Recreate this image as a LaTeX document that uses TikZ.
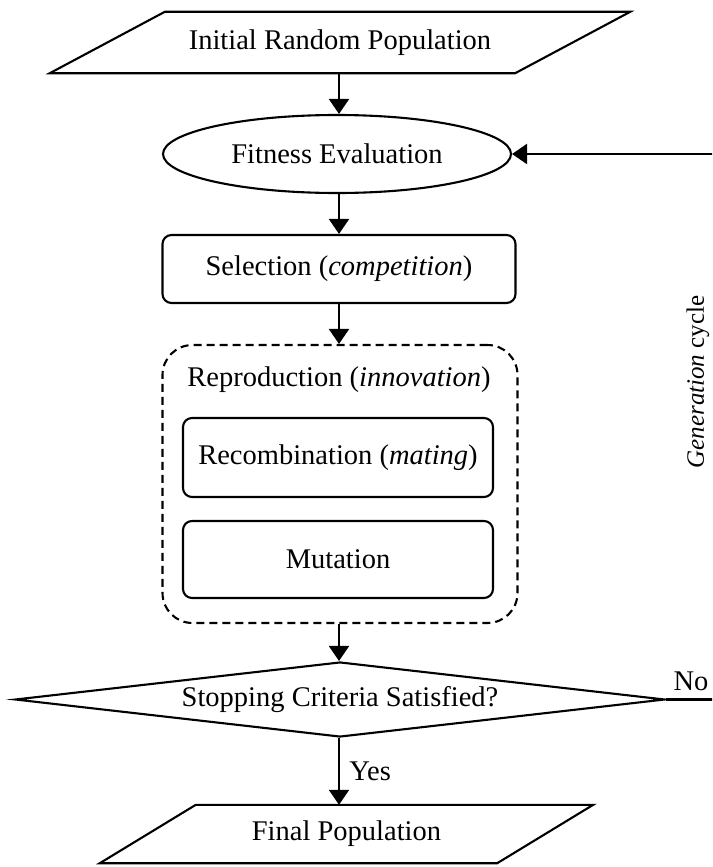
\documentclass[tikz,border=0pt]{standalone}
\usepackage{fontspec}
\setmainfont{Liberation Serif}
\usetikzlibrary{shapes.geometric,arrows.meta}
\begin{document}
\begin{tikzpicture}[x=1pt,y=-1pt,
  every node/.style={font=\fontsize{28.5}{34}\selectfont},
  outline/.style={draw, line width=2.1pt, inner sep=0pt},
  iobody/.style={rectangle, inner sep=0pt},
  ioedge/.style={line width=2.1pt, line join=miter},
  roundbox/.style={outline, rectangle, rounded corners=9pt},
  groupbox/.style={draw, line width=2.1pt, inner sep=0pt, rectangle,
    rounded corners=30pt, dash pattern=on 8pt off 5pt},
  flow/.style={line width=2.1pt, -{Triangle[width=20pt,length=15pt]}},
]
\useasboundingbox (0,0) rectangle (712,867);
\clip (0,0) rectangle (712,867);

% main column
\node[iobody, minimum width=465pt, minimum height=61pt] (init) at (340,42.5)
      {Initial Random Population};
\draw[ioedge] ([xshift=57.5pt]init.north west) -- ([xshift=57.5pt]init.north east)
      -- ([xshift=-57.5pt]init.south east) -- ([xshift=-57.5pt]init.south west) -- cycle;
\node[outline, ellipse, minimum width=348pt, minimum height=78pt] (fit) at (337,154)
      {Fitness Evaluation};
\node[roundbox, minimum width=353pt, minimum height=68pt] (sel) at (339,269)
      {Selection (\textit{competition})};

% reproduction group
\node[groupbox, minimum width=355pt, minimum height=278pt] (rep) at (340,484) {};
\node (replabel) at (339,380) {Reproduction (\textit{innovation})};
\node[roundbox, minimum width=310pt, minimum height=79pt] (rec) at (338,457.5)
      {Recombination (\textit{mating})};
\node[roundbox, minimum width=310pt, minimum height=77pt] (mut) at (338,559.5)
      {Mutation};

% decision and result
\node[outline, diamond, aspect=8.6, minimum width=650pt, minimum height=75pt] (stop)
      at (340,699.5) {Stopping Criteria Satisfied?};
\node[iobody, minimum width=397pt, minimum height=58pt] (final) at (346.5,834)
      {Final Population};
\draw[ioedge] ([xshift=48pt]final.north west) -- ([xshift=48pt]final.north east)
      -- ([xshift=-48pt]final.south east) -- ([xshift=-48pt]final.south west) -- cycle;

% vertical flow
\draw[flow] (init.south -| sel.center) -- (fit.north -| sel.center);
\draw[flow] (fit.south -| sel.center) -- (sel.north -| sel.center);
\draw[flow] (sel.south) -- (sel.south |- rep.north);
\draw[flow] (rep.south -| sel.center) -- (stop.north -| sel.center);
\draw[flow] (stop.south -| sel.center) -- node[right=6pt] (yes) {Yes}
      (final.north -| sel.center);

% generation loop back to the evaluation
\coordinate (loop) at (760,420);
\draw[flow] (stop.east) -- (stop.east -| loop) |- (fit.east);
\node (no) at (691,681) {No};
\node[rotate=90, font=\fontsize{25}{30}\selectfont] (gen) at (698,382)
      {\textit{Generation} cycle};
\end{tikzpicture}
\end{document}
